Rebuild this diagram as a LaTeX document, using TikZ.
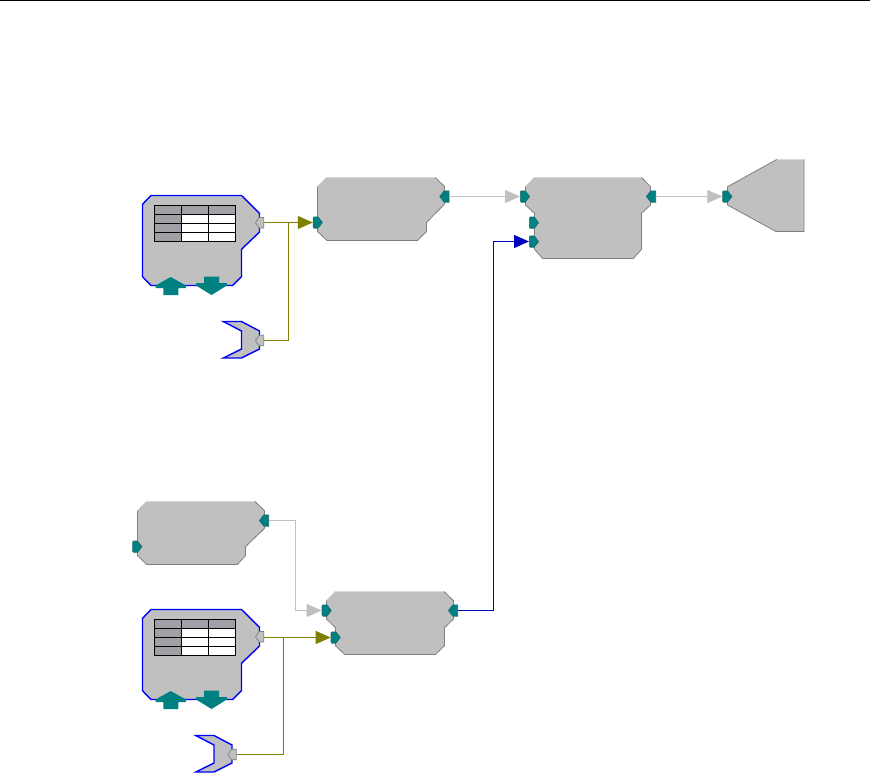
\documentclass[tikz,border=0pt]{standalone}
\usetikzlibrary{arrows.meta}
\definecolor{blockfill}{HTML}{C0C0C0}
\definecolor{blockedge}{HTML}{7F7F7F}
\definecolor{blockhi}{HTML}{DADADA}
\definecolor{portteal}{HTML}{008080}
\definecolor{portedge}{HTML}{1F6A6A}
\definecolor{wireolive}{HTML}{808000}
\definecolor{wireblue}{HTML}{0000C0}
\definecolor{wiregray}{HTML}{C0C0C0}
\definecolor{cellgray}{HTML}{A0A0A6}
\tikzset{
  blockshape/.style={fill=blockfill,draw=blockedge,line width=0.8pt,line join=miter},
  blockhigh/.style={draw=blockhi,line width=0.8pt},
  blueshape/.style={fill=blockfill,draw=blue,line width=1.4pt,line join=miter},
  portshape/.style={fill=portteal,draw=portedge,line width=0.6pt,line join=miter,miter limit=10},
  grayport/.style={fill=blockfill,draw=gray,line width=0.7pt,line join=miter,miter limit=10},
  bigarrow/.style={fill=portteal,draw=none},
  tabline/.style={draw=black,line width=1pt},
  wirebase/.style={line width=1pt,-{Triangle[length=15pt,width=13pt]}},
  wireplain/.style={line width=1pt},
  oliveline/.style={wirebase,draw=wireolive,color=wireolive},
  blueline/.style={wirebase,draw=wireblue,color=wireblue},
  grayline/.style={wirebase,draw=wiregray,color=wiregray},
}
% input port: #1 name, #2 x, #3 y
\newcommand{\inport}[3]{%
  \coordinate (#1) at (#2-5,#3);
  \draw[portshape] (#2-4.7,#3-4.5) -- (#2-3.7,#3-5.7) -- (#2+0.2,#3-5.7) -- (#2+4.6,#3) -- (#2+0.2,#3+5.7) -- (#2-3.7,#3+5.7) -- (#2-4.7,#3+4.5) -- cycle;}
% output port
\newcommand{\outport}[3]{%
  \coordinate (#1) at (#2+5,#3);
  \draw[portshape] (#2+4.7,#3-5.7) -- (#2-0.2,#3-5.7) -- (#2-4.6,#3) -- (#2-0.2,#3+5.7) -- (#2+4.7,#3+5.7) -- cycle;}
\newcommand{\grayout}[3]{%
  \coordinate (#1) at (#2+5,#3);
  \draw[grayport] (#2+4.7,#3-5.3) -- (#2,#3-5.3) -- (#2-3.5,#3) -- (#2,#3+5.3) -- (#2+4.7,#3+5.3) -- cycle;}
% table block, #1 name of output
\newcommand{\tableblock}[1]{%
  \draw[blueshape] (142.5,204.3) -- (151,195.5) -- (241.5,195.5) -- (259.5,213.3) -- (259.5,232) -- (241.5,249.3) -- (241.5,276.7) -- (232.7,285.5) -- (151,285.5) -- (142.5,276.7) -- cycle;
  \fill[cellgray] (154.5,205.5) rectangle (235.5,214.5);
  \fill[cellgray] (154.5,205.5) rectangle (181.5,241.5);
  \fill[white] (181.5,214.5) rectangle (235.5,241.5);
  \draw[tabline] (154.5,205.5) rectangle (235.5,241.5);
  \draw[tabline] (181.5,205.5) -- (181.5,241.5) (208.5,205.5) -- (208.5,241.5);
  \draw[tabline] (154.5,214.5) -- (235.5,214.5) (154.5,223.5) -- (235.5,223.5) (154.5,232.5) -- (235.5,232.5);
  \fill[bigarrow] (170.7,277) -- (185.9,285.5) -- (185.9,288) -- (178.3,288) -- (178.3,295) -- (163.3,295) -- (163.3,288) -- (155.5,288) -- (155.5,285.5) -- cycle;
  \fill[bigarrow] (204,276.7) -- (219,276.7) -- (219,283) -- (226.9,283) -- (226.9,285.5) -- (211.5,295) -- (196.1,285.5) -- (196.1,283) -- (204,283) -- cycle;
  \grayout{#1}{259}{222.7}}
% small notched source, #1 name of output
\newcommand{\smallblock}[1]{%
  \draw[blueshape] (223.3,321.5) -- (241.5,321.5) -- (259.5,331) -- (259.5,349) -- (241.5,358) -- (223.3,358) -- (241.5,349) -- (241.5,331) -- cycle;
  \grayout{#1}{259}{340.5}}
\begin{document}
\begin{tikzpicture}[x=1pt,y=-1pt]
\useasboundingbox (0,0) rectangle (870,772);
\coordinate (topl) at (0,0.5);
\coordinate (topr) at (870,0.5);
\draw[black,line width=1pt] (topl) -- (topr);

% upper row
\begin{scope}
  \tableblock{tblA}
  \smallblock{srcA}
\end{scope}
\draw[blockshape] (317.5,186.5) -- (327,177.5) -- (435.3,177.5) -- (444.5,186.5) -- (444.5,204.1) -- (426.5,222.5) -- (426.5,231.5) -- (417.6,240.5) -- (327,240.5) -- (317.5,231.5) -- cycle;
\draw[blockhigh] (317.5,186.5) -- (327,177.5) -- (435.3,177.5);
\inport{aIn}{317.8}{222.5}
\outport{aOut}{444.3}{196.5}

\draw[blockshape] (525.5,186.7) -- (534.5,177.5) -- (641.5,177.5) -- (650.5,186.7) -- (650.5,205) -- (641.5,213.3) -- (641.5,249.3) -- (633.3,258.5) -- (542.7,258.5) -- (534.5,249.3) -- (534.5,213.3) -- (525.5,205) -- cycle;
\draw[blockhigh] (525.5,186.7) -- (534.5,177.5) -- (641.5,177.5);
\inport{bIn}{525}{196.5}
\inport{bMid}{534}{222.7}
\inport{bLow}{534}{241.5}
\outport{bOut}{651}{196.5}

\draw[blockshape] (727.5,186.7) -- (776.7,159.5) -- (804,159.5) -- (804,231.5) -- (776,231.5) -- (727.5,205) -- cycle;
\draw[blockhigh] (776.7,159.5) -- (804,159.5);
\inport{cIn}{727.3}{196.5}

% lower row
\draw[blockshape] (137.5,510.7) -- (146.7,501.5) -- (255,501.5) -- (264.5,510.7) -- (264.5,528.3) -- (245.5,546.7) -- (245.5,555.7) -- (237.3,564.5) -- (146.7,564.5) -- (137.5,555.7) -- cycle;
\draw[blockhigh] (137.5,510.7) -- (146.7,501.5) -- (255,501.5);
\inport{dIn}{137.3}{546.7}
\outport{dOut}{264}{520.5}

\begin{scope}[shift={(0,414)}]
  \tableblock{tblB}
\end{scope}
\begin{scope}[shift={(-27.5,414)}]
  \smallblock{srcB}
\end{scope}

\draw[blockshape] (326.5,600.7) -- (335.7,591.5) -- (444,591.5) -- (453.5,600.7) -- (453.5,619) -- (444.5,627.7) -- (444.5,645.7) -- (435.3,654.5) -- (344.7,654.5) -- (335.5,645.7) -- (335.5,627.7) -- (326.5,619) -- cycle;
\draw[blockhigh] (326.5,600.7) -- (335.7,591.5) -- (444,591.5);
\inport{eIn}{326.7}{610.5}
\inport{eLow}{335.7}{637.5}
\outport{eOut}{453}{610.5}

% connectors
\coordinate (juncA) at (288.5,222.5);
\coordinate (juncB) at (283.5,637.5);
\coordinate (bendD) at (295.5,520.5);
\coordinate (bendE) at (493.5,610.5);
\coordinate (tblAw) at (tblA |- aIn);
\coordinate (tblBw) at (tblB |- eLow);

\draw[oliveline] (tblAw) -- (aIn);
\draw[wireplain,wireolive] (srcA) -| (juncA);
\draw[grayline] (aOut) -- (bIn);
\draw[grayline] (bOut) -- (cIn);
\draw[grayline] (dOut) -- (bendD) |- (eIn);
\draw[oliveline] (tblBw) -- (eLow);
\draw[wireplain,wireolive] (srcB) -| (juncB);
\draw[blueline] (eOut) -- (bendE) |- (bLow);
\end{tikzpicture}
\end{document}
